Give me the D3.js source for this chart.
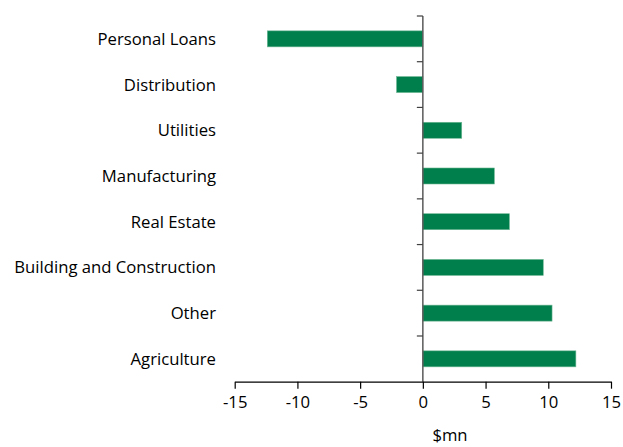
<!DOCTYPE html>
<html>
<head>
<meta charset="utf-8">
<script src="https://cdn.jsdelivr.net/npm/d3@7"></script>
<style>
  html, body { margin: 0; padding: 0; background: #fff; }
  svg text { font-family: "Open Sans", "Noto Sans", sans-serif; fill: #000; }
</style>
</head>
<body>
<svg id="chart" width="623" height="447"></svg>
<script>
// Change in lending by sector, $mn
const sectors = ["Personal Loans", "Distribution", "Utilities", "Manufacturing",
                 "Real Estate", "Building and Construction", "Other", "Agriculture"];
const changes = [-12.4, -2.1, 3.1, 5.7, 6.9, 9.6, 10.3, 12.2];
const xTicks = [-15, -10, -5, 0, 5, 10, 15];
const xTitle = "$mn";

const svg = d3.select("#chart");
const plot = { left: 234.7, right: 611, top: 16, bottom: 381.7 };
const fontSize = 16.7;

const x = d3.scaleLinear().domain([-15, 15]).range([plot.left, plot.right]);
const y = d3.scaleBand().domain(sectors).range([plot.top, plot.bottom]).paddingInner(0.65).paddingOuter(0.325);
const yBand = d3.scaleBand().domain(sectors).range([plot.top, plot.bottom]);

// Bars
svg.append("g").selectAll("rect")
  .data(sectors.map((s, i) => ({ s, v: changes[i] })))
  .join("rect")
  .attr("x", d => x(Math.min(0, d.v)))
  .attr("width", d => Math.abs(x(d.v) - x(0)))
  .attr("y", d => y(d.s))
  .attr("height", y.bandwidth())
  .attr("fill", "#007e4c")
  .attr("stroke", "#6fb894")
  .attr("stroke-width", 0.6);

// Vertical category axis at zero, with ticks between bands
const zx = x(0);
const vAxis = svg.append("g");
vAxis.append("line")
  .attr("x1", zx).attr("x2", zx).attr("y1", plot.top).attr("y2", plot.bottom)
  .attr("stroke", "#595959").attr("stroke-width", 1.5);
const boundaries = sectors.map(s => yBand(s));
vAxis.selectAll("line.tick")
  .data(boundaries)
  .join("line")
  .attr("class", "tick")
  .attr("x1", zx - 6).attr("x2", zx)
  .attr("y1", d => d).attr("y2", d => d)
  .attr("stroke", "#404040").attr("stroke-width", 1.2);

// Category labels
svg.append("g").selectAll("text")
  .data(sectors)
  .join("text")
  .attr("x", 216)
  .attr("y", d => yBand(d) + yBand.bandwidth() / 2)
  .attr("dy", "0.36em")
  .attr("text-anchor", "end")
  .attr("font-size", fontSize)
  .text(d => d);

// Horizontal value axis
const xAxis = d3.axisBottom(x).tickValues(xTicks).tickSize(7).tickSizeOuter(0).tickPadding(7)
  .tickFormat(d3.format("d"));
const gx = svg.append("g").attr("transform", `translate(0,${plot.bottom})`).call(xAxis);
gx.select(".domain").attr("stroke", "#000").attr("stroke-width", 1.2);
gx.selectAll(".tick line").attr("stroke", "#000").attr("stroke-width", 1.2);
gx.selectAll(".tick text")
  .attr("font-size", fontSize)
  .attr("font-family", "\"Open Sans\", \"Noto Sans\", sans-serif")
  .attr("fill", "#000")
  .text(d => d < 0 ? "-" + Math.abs(d) : d);

// Axis title
svg.append("text")
  .attr("x", 450).attr("y", 441)
  .attr("text-anchor", "middle")
  .attr("font-size", fontSize)
  .text(xTitle);
</script>
</body>
</html>
